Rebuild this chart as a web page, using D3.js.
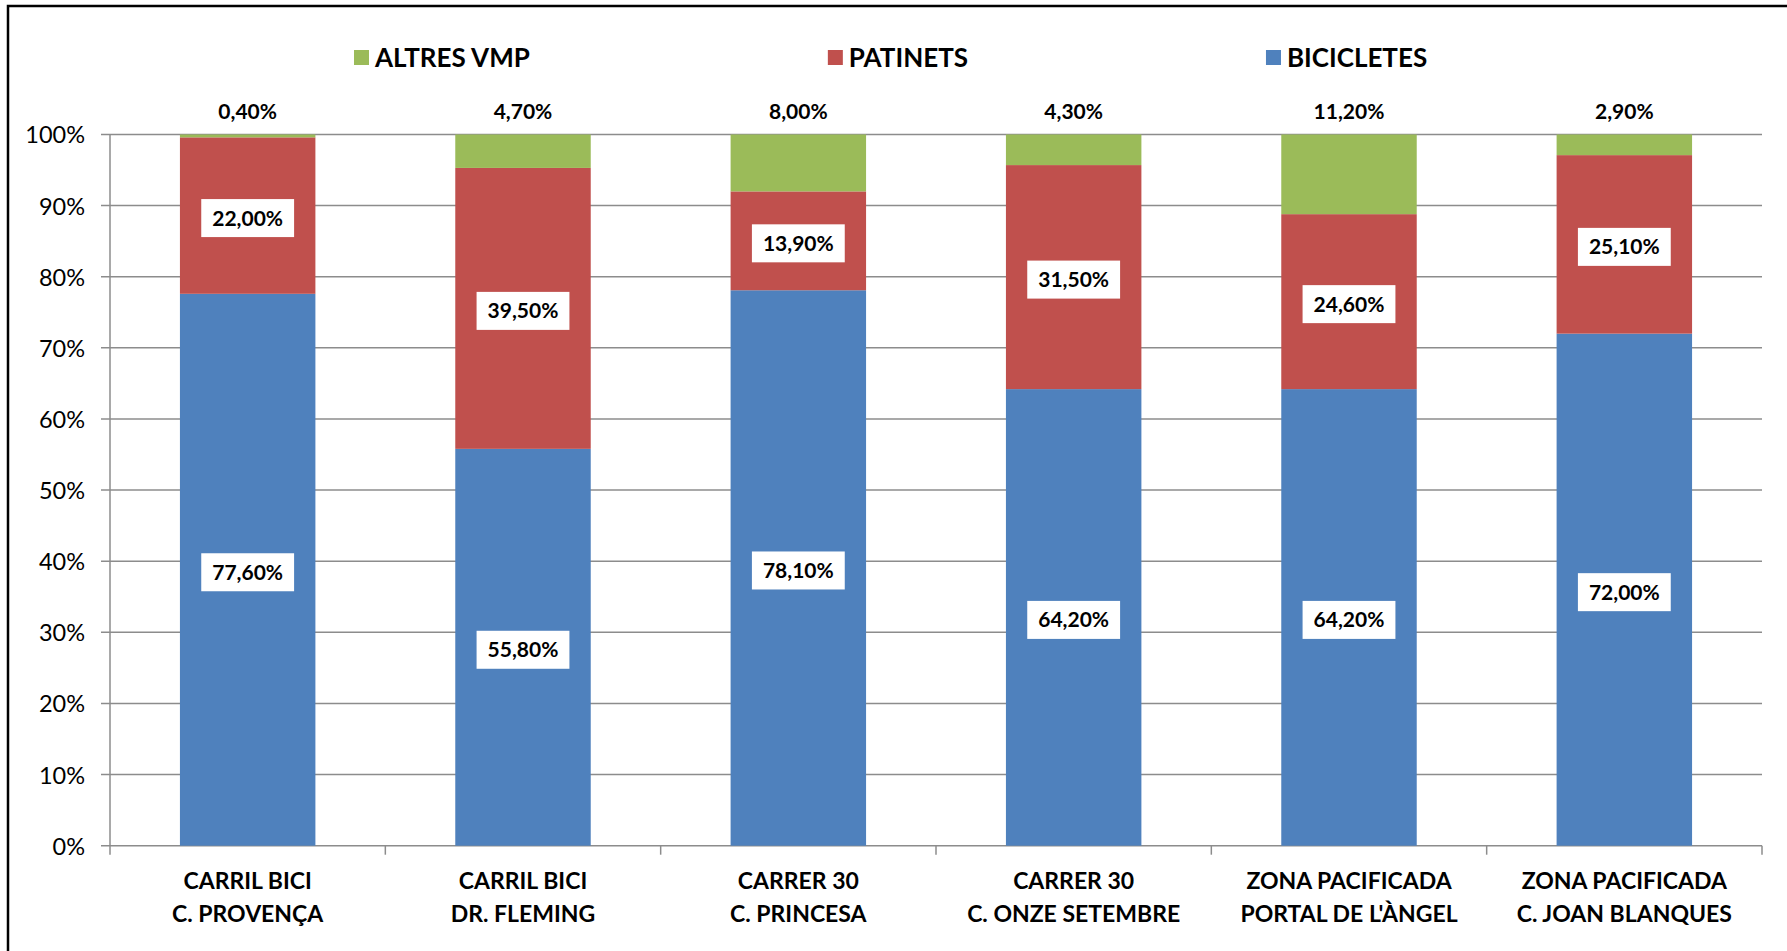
<!DOCTYPE html>
<html>
<head>
<meta charset="utf-8">
<script src="https://cdn.jsdelivr.net/npm/d3@7"></script>
<style>
  body { margin: 0; background: #fff; }
  text { font-family: Lato, "Open Sans", sans-serif; fill: #000; }
</style>
</head>
<body>
<script>
// stacked 100% bars, VMP share per site

var categories = ["CARRIL BICI|C. PROVENÇA", "CARRIL BICI|DR. FLEMING", "CARRER 30|C. PRINCESA",
  "CARRER 30|C. ONZE SETEMBRE", "ZONA PACIFICADA|PORTAL DE L'ÀNGEL", "ZONA PACIFICADA|C. JOAN BLANQUES"];
var bicicletes = [77.6, 55.8, 78.1, 64.2, 64.2, 72.0];
var patinets = [22.0, 39.5, 13.9, 31.5, 24.6, 25.1];
var altres = [0.4, 4.7, 8.0, 4.3, 11.2, 2.9];
var yTicks = [0, 10, 20, 30, 40, 50, 60, 70, 80, 90, 100];

var seriesNames = ["BICICLETES", "PATINETS", "ALTRES VMP"];
var legendOrder = ["ALTRES VMP", "PATINETS", "BICICLETES"];
var colors = {"BICICLETES": "#4f81bd", "PATINETS": "#c0504d", "ALTRES VMP": "#9bbb59"};

var W = 1787, H = 951;
var plotLeft = 110, plotRight = 1762, plotTop = 134.5, plotBottom = 845.7;

var rows = categories.map(function(c, i) {
  return {cat: c, "BICICLETES": bicicletes[i], "PATINETS": patinets[i], "ALTRES VMP": altres[i]};
});
var stacked = d3.stack().keys(seriesNames)(rows);

var locale = d3.formatLocale({decimal: ",", thousands: ".", grouping: [3], currency: ["", "€"]});
var fmt = locale.format(".2f");

var svg = d3.select("body").append("svg").attr("width", W).attr("height", H);

// frame
svg.append("rect").attr("x", 8).attr("y", 6).attr("width", 1900).attr("height", 1100)
  .attr("fill", "none").attr("stroke", "#000").attr("stroke-width", 2.5);

var x = d3.scaleBand().domain(categories).range([plotLeft, plotRight]).paddingInner(0.508).paddingOuter(0.254);
var y = d3.scaleLinear().domain([0, 100]).range([plotBottom, plotTop]);

// gridlines
svg.append("g").selectAll("line").data(yTicks).enter().append("line")
  .attr("x1", plotLeft - 9).attr("x2", plotRight)
  .attr("y1", function(d) { return y(d); }).attr("y2", function(d) { return y(d); })
  .attr("stroke", "#8c8c8c").attr("stroke-width", 1.5);

// y axis line
svg.append("line").attr("x1", plotLeft).attr("x2", plotLeft).attr("y1", plotTop).attr("y2", plotBottom)
  .attr("stroke", "#8c8c8c").attr("stroke-width", 1.5);

svg.append("g").selectAll("text").data(yTicks).enter().append("text")
  .attr("x", 85).attr("y", function(d) { return y(d); }).attr("dy", "0.38em")
  .attr("text-anchor", "end").style("font-size", "23.5px")
  .text(function(d) { return d + "%"; });

// category ticks
var step = x.step();
var bounds = categories.map(function(c) { return x(c) - (step - x.bandwidth()) / 2; }).concat([plotRight]);
svg.append("g").selectAll("line").data(bounds).enter().append("line")
  .attr("x1", function(d) { return d; }).attr("x2", function(d) { return d; })
  .attr("y1", plotBottom).attr("y2", plotBottom + 9)
  .attr("stroke", "#8c8c8c").attr("stroke-width", 1.5);

// bars
var layers = svg.append("g").selectAll("g").data(stacked).enter().append("g")
  .attr("fill", function(d) { return colors[d.key]; });
layers.selectAll("rect").data(function(d) { return d; }).enter().append("rect")
  .attr("x", function(d) { return x(d.data.cat); })
  .attr("width", x.bandwidth())
  .attr("y", function(d) { return y(d[1]); })
  .attr("height", function(d) { return y(d[0]) - y(d[1]); });

// boxed labels for bicicletes and patinets
stacked.slice(0, 2).forEach(function(layer) {
  layer.forEach(function(d) {
    var cx = x(d.data.cat) + x.bandwidth() / 2;
    var cy = y((d[0] + d[1]) / 2) + 2.5;
    var g = svg.append("g");
    var t = g.append("text").attr("x", cx).attr("y", cy).attr("dy", "0.36em")
      .attr("text-anchor", "middle").style("font-size", "21px").style("font-weight", "bold")
      .text(fmt(d.data[layer.key]) + "%");
    var w = t.node().getComputedTextLength();
    g.insert("rect", "text").attr("x", cx - w / 2 - 11).attr("y", cy - 19)
      .attr("width", w + 22).attr("height", 38).attr("fill", "#fff");
  });
});

// altres labels above bars
svg.append("g").selectAll("text").data(stacked[2]).enter().append("text")
  .attr("x", function(d) { return x(d.data.cat) + x.bandwidth() / 2; })
  .attr("y", 119).attr("text-anchor", "middle")
  .style("font-size", "21px").style("font-weight", "bold")
  .text(function(d) { return fmt(d.data["ALTRES VMP"]) + "%"; });

// category labels
var catG = svg.append("g").selectAll("text").data(categories).enter().append("text")
  .attr("text-anchor", "middle").style("font-size", "23px").style("font-weight", "bold");
catG.append("tspan").attr("x", function(d) { return x(d) + x.bandwidth() / 2; }).attr("y", 889)
  .text(function(d) { return d.split("|")[0]; });
catG.append("tspan").attr("x", function(d) { return x(d) + x.bandwidth() / 2; }).attr("y", 922)
  .text(function(d) { return d.split("|")[1]; });

// legend
var lx = 354;
legendOrder.forEach(function(name) {
  svg.append("rect").attr("x", lx).attr("y", 50).attr("width", 15).attr("height", 15)
    .attr("fill", colors[name]);
  var t = svg.append("text").attr("x", lx + 21).attr("y", 57).attr("dy", "0.37em")
    .style("font-size", "26px").style("font-weight", "bold").text(name);
  lx = lx + 21 + t.node().getComputedTextLength() + 298;
});
</script>
</body>
</html>
